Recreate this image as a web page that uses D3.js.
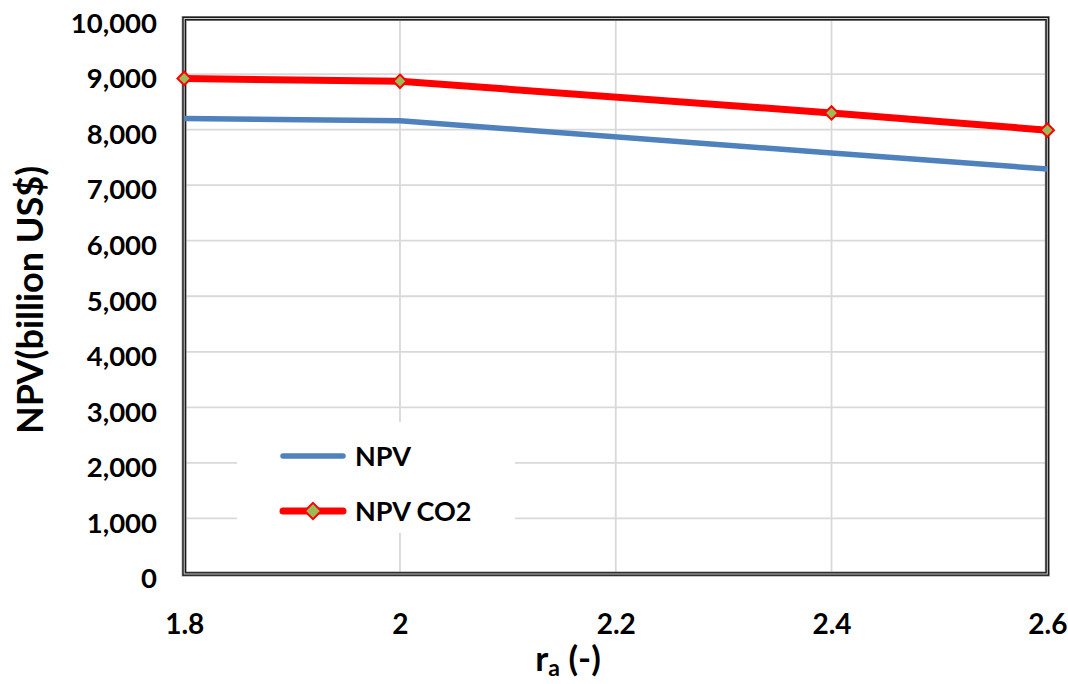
<!DOCTYPE html>
<html>
<head>
<meta charset="utf-8">
<script src="https://cdn.jsdelivr.net/npm/d3@7/dist/d3.min.js"></script>
<style>
  html, body { margin: 0; padding: 0; background: #ffffff; }
  svg { display: block; }
  text { font-family: "Lato", "Open Sans", sans-serif; font-weight: bold; fill: #000; }
</style>
</head>
<body>
<svg id="chart" width="1068" height="684"></svg>
<script>
// r_a values (x) and NPV results in billion US$
const raValues = [1.8, 2.0, 2.4, 2.6];
const npv = [8200, 8160, 7580, 7290];
const npvCO2 = [8920, 8870, 8300, 7990];
const xTicks = [1.8, 2.0, 2.2, 2.4, 2.6];
const yTicks = [0, 1000, 2000, 3000, 4000, 5000, 6000, 7000, 8000, 9000, 10000];
const seriesNames = ["NPV", "NPV CO2"];

const svg = d3.select("#chart");
const plotL = 184.2, plotR = 1047.3, plotT = 18.5, plotB = 574;

const x = d3.scaleLinear().domain([1.8, 2.6]).range([plotL, plotR]);
const y = d3.scaleLinear().domain([0, 10000]).range([plotB, plotT]);

// gridlines
const grid = svg.append("g");
grid.selectAll("line.h").data(yTicks.slice(1, -1)).join("line").attr("class", "h")
  .attr("x1", plotL).attr("x2", plotR)
  .attr("y1", d => y(d)).attr("y2", d => y(d))
  .attr("stroke", "#d9d9d9").attr("stroke-width", 1.8);
grid.selectAll("line.v").data(xTicks.slice(1, -1)).join("line").attr("class", "v")
  .attr("x1", d => x(d)).attr("x2", d => x(d))
  .attr("y1", plotT).attr("y2", plotB)
  .attr("stroke", "#d9d9d9").attr("stroke-width", 1.8);

// legend background hides the grid behind it
svg.append("rect").attr("x", 237).attr("y", 422).attr("width", 278).attr("height", 111)
  .attr("fill", "#ffffff");

// double-line plot frame
const frame = (w, c) => svg.append("rect")
  .attr("x", plotL).attr("y", plotT).attr("width", plotR - plotL).attr("height", plotB - plotT)
  .attr("fill", "none").attr("stroke", c).attr("stroke-width", w);
frame(5, "#8c8c8c");
frame(3.6, "#1a1a1a");
frame(1, "#d0d0d0");

// y axis labels
const fmt = d3.format(",");
const yAxis = d3.axisLeft(y).tickValues(yTicks).tickFormat(fmt).tickSize(0).tickPadding(0);
const yg = svg.append("g").attr("transform", "translate(157,0)").call(yAxis);
yg.select(".domain").remove();
yg.selectAll("text").attr("font-size", 27.5).attr("font-family", "Lato").attr("font-weight", 900)
  .attr("dy", "0.5em").attr("fill", "#000");

// x axis labels
const xAxis = d3.axisBottom(x).tickValues(xTicks).tickFormat(d3.format("")).tickSize(0).tickPadding(0);
const xg = svg.append("g").attr("transform", "translate(0,634)").call(xAxis);
xg.select(".domain").remove();
xg.selectAll("text").attr("font-size", 28).attr("font-family", "Lato").attr("font-weight", "bold")
  .attr("dy", 0).attr("fill", "#000");

// axis titles
svg.append("text").attr("transform", "translate(43,300) rotate(-90)")
  .attr("text-anchor", "middle").attr("font-size", 36)
  .text("NPV(billion US$)");
const xt = svg.append("text").attr("x", 568).attr("y", 671).attr("text-anchor", "middle")
  .attr("font-size", 35);
xt.append("tspan").text("r");
xt.append("tspan").attr("font-size", 23).attr("dy", 5).text("a");
xt.append("tspan").attr("dy", -5).text(" (-)");

// series lines
const line = d3.line().x((d, i) => x(raValues[i])).y(d => y(d));
svg.append("path").datum(npv).attr("d", line)
  .attr("fill", "none").attr("stroke", "#4f81bd").attr("stroke-width", 5.5).attr("stroke-linejoin", "round");
svg.append("path").datum(npvCO2).attr("d", line)
  .attr("fill", "none").attr("stroke", "#ff0000").attr("stroke-width", 7).attr("stroke-linejoin", "round");

const diamond = d3.symbol().type(d3.symbolDiamond2).size(115);
svg.selectAll("path.mk").data(npvCO2).join("path").attr("class", "mk")
  .attr("d", diamond)
  .attr("transform", (d, i) => `translate(${x(raValues[i])},${y(d)})`)
  .attr("fill", "#9bbb59").attr("stroke", "#ff0000").attr("stroke-width", 2);

// legend
const legend = svg.append("g");
const legY = [456, 511];
legend.append("line").attr("x1", 283).attr("x2", 343).attr("y1", legY[0]).attr("y2", legY[0])
  .attr("stroke", "#4f81bd").attr("stroke-width", 5.5).attr("stroke-linecap", "round");
legend.append("line").attr("x1", 283).attr("x2", 343).attr("y1", legY[1]).attr("y2", legY[1])
  .attr("stroke", "#ff0000").attr("stroke-width", 7).attr("stroke-linecap", "round");
legend.append("path").attr("d", d3.symbol().type(d3.symbolDiamond2).size(170))
  .attr("transform", `translate(313,${legY[1]})`)
  .attr("fill", "#9bbb59").attr("stroke", "#ff0000").attr("stroke-width", 2);
legend.selectAll("text").data(seriesNames).join("text")
  .attr("x", 355).attr("y", (d, i) => legY[i] + 10).attr("font-size", 27)
  .text(d => d);
</script>
</body>
</html>
